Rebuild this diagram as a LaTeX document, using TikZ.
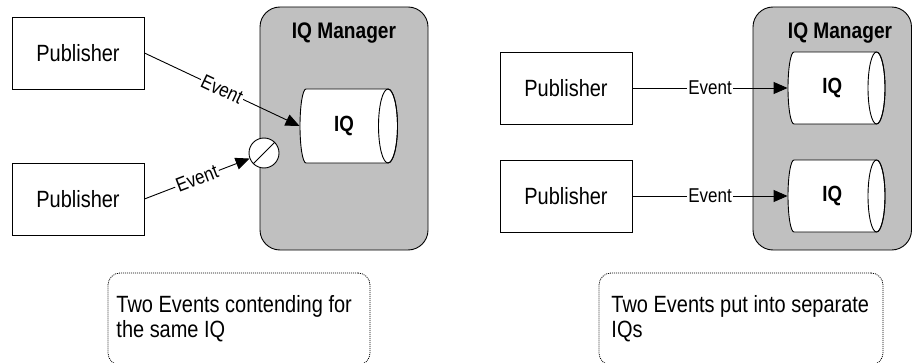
\documentclass[tikz,border=0pt]{standalone}
\usepackage{fontspec}
\setmainfont{Liberation Sans}[FakeStretch=0.85]
\usetikzlibrary{arrows.meta}
\definecolor{mgrgray}{RGB}{192,192,192}
\newcommand\iqcyl[5]{%
  \draw[fill=white] (#1,#3+#4) -- (#2,#3+#4)
    arc[start angle=90,end angle=-90,x radius=#5,y radius=#4]
    -- (#1,#3-#4)
    arc[start angle=270,end angle=90,x radius=6,y radius=#4] -- cycle;
  \draw (#2,#3) ellipse[x radius=#5,y radius=#4];}
\begin{document}
\begin{tikzpicture}[x=1pt,y=1pt,line width=0.9pt,
  pubbox/.style={draw, fill=white, minimum width=132pt, minimum height=72pt, inner sep=0pt, font=\fontsize{23.5}{27}\selectfont},
  mgrbox/.style={draw, fill=mgrgray, rounded corners=20pt, inner sep=0pt},
  mgrtitle/.style={font=\fontsize{22.5}{26}\selectfont\bfseries, anchor=base, inner sep=0pt},
  cylbody/.style={inner sep=0pt, font=\fontsize{22}{26}\selectfont\bfseries},
  evt/.style={font=\fontsize{20}{24}\selectfont, fill=white, inner sep=1.5pt},
  flow/.style={-{Triangle[length=14pt,width=12pt]}},
  blocker/.style={draw, circle, fill=white, minimum size=30pt, inner sep=0pt},
  notebox/.style={draw, line width=0.8pt, dash pattern=on 1pt off 1pt, rounded corners=12pt, inner sep=0pt},
  notetext/.style={font=\fontsize{23.5}{25}\selectfont, align=left, anchor=north west, inner sep=0pt}]
\useasboundingbox (0,0) rectangle (912,362);

% ---------- left panel ----------
\node[mgrbox, minimum width=168pt, minimum height=243pt] (mgr1) at (344,233.5) {};
\node[mgrtitle] (t1) at (344,323.5) {IQ Manager};
\iqcyl{306}{388}{236}{37}{9.5}
\node[cylbody, minimum width=88pt, minimum height=74pt] (cyl1) at (344,236) {IQ};
\node[blocker] (blk) at (264,209) {};
\draw (blk.south west) -- (blk.north east);

\node[pubbox] (pub1) at (78,309) {Publisher};
\node[pubbox] (pub2) at (78,163) {Publisher};

\draw[flow] (pub1.east) -- node[evt, sloped] {Event} (cyl1.west);
\draw[flow] (pub2.east) -- node[evt, sloped] {Event} (blk);

\node[notebox, minimum width=262pt, minimum height=92pt] (n1) at (239,43) {};
\node[notetext] (nt1) at (116,66.5) {Two Events contending for\\the same IQ};

% ---------- right panel ----------
\node[mgrbox, minimum width=158.5pt, minimum height=243pt] (mgr2) at (832.25,233.5) {};
\node[mgrtitle] (t2) at (840,323.5) {IQ Manager};
\iqcyl{794}{876.5}{274}{36}{8.5}
\node[cylbody, minimum width=88.5pt, minimum height=72pt] (cyl3) at (832.25,274) {IQ};
\iqcyl{794}{876.5}{166}{36}{8.5}
\node[cylbody, minimum width=88.5pt, minimum height=72pt] (cyl4) at (832.25,166) {IQ};

\node[pubbox] (pub3) at (566,274) {Publisher};
\node[pubbox] (pub4) at (566,166) {Publisher};

\draw[flow] (pub3.east) -- node[evt] {Event} (cyl3.west);
\draw[flow] (pub4.east) -- node[evt] {Event} (cyl4.west);

\node[notebox, minimum width=284pt, minimum height=92pt] (n2) at (741,43) {};
\node[notetext] (nt2) at (611,66.5) {Two Events put into separate\\IQs};
\end{tikzpicture}
\end{document}
